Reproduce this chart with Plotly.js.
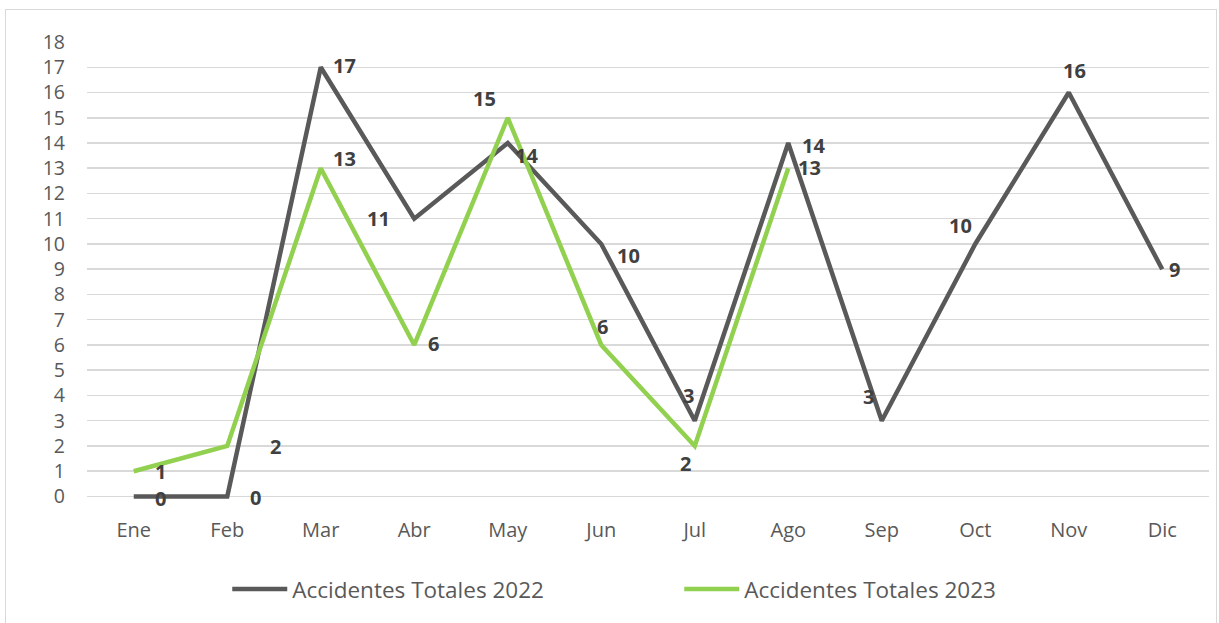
<!DOCTYPE html>
<html>
<head>
<meta charset="utf-8">
<script src="https://cdn.plot.ly/plotly-3.0.1.min.js"></script>
<style>
html,body{margin:0;padding:0;background:#fff;}
#frame{position:absolute;left:5px;top:9px;width:1212px;height:620px;border:1.5px solid #d9d9d9;box-sizing:border-box;}
#chart{position:absolute;left:0;top:0;width:1219px;height:623px;}
</style>
</head>
<body>
<div id="frame"></div>
<div id="chart"></div>
<script>
const months = ["Ene","Feb","Mar","Abr","May","Jun","Jul","Ago","Sep","Oct","Nov","Dic"];
const name2022 = "Accidentes Totales 2022";
const name2023 = "Accidentes Totales 2023";
const values2022 = [0,0,17,11,14,10,3,14,3,10,16,9];
const values2023 = [1,2,13,6,15,6,2,13];

// label offsets in pixels [dx, dy(up)]
const offs2022 = [[27,-2],[28,-1],[24,2],[-36,0],[19,-13],[27,-12],[-6,25],[25,-3],[-13,24],[-15,18],[6,22],[12,0]];
const offs2023 = [[27,0],[48,-1],[24,10],[19,1],[-23,19],[1,18],[-9,-18],[21,1]];

const FONT = "'Open Sans', Lato, sans-serif";
const c2022 = "#595959";
const c2023 = "#92d050";

const traces = [
  {x: months, y: values2022, type: "scatter", mode: "lines", name: name2022,
   line: {color: c2022, width: 4.5}},
  {x: months.slice(0, values2023.length), y: values2023, type: "scatter", mode: "lines", name: name2023,
   line: {color: c2023, width: 4.5}}
];

const annotations = [];
function addLabels(vals, offs) {
  vals.forEach((v, i) => {
    annotations.push({x: months[i], y: v, xref: "x", yref: "y", text: String(v), showarrow: false,
      xshift: offs[i][0], yshift: offs[i][1],
      font: {family: FONT, size: 20, color: "#404040", weight: "bold"}});
  });
}
addLabels(values2022, offs2022);
addLabels(values2023, offs2023);

const layout = {
  width: 1219, height: 623,
  margin: {l: 87, r: 10, t: 42, b: 123.5, autoexpand: false},
  paper_bgcolor: "rgba(0,0,0,0)", plot_bgcolor: "rgba(0,0,0,0)",
  font: {family: FONT, size: 19, color: "#595959"},
  showlegend: true,
  xaxis: {type: "category", range: [-0.5, 11.5], showgrid: false, zeroline: false, automargin: false,
    showline: false, ticks: "", ticklabelstandoff: 17, tickfont: {size: 20, color: "#595959"}},
  yaxis: {range: [-0.1, 18], tickvals: [0,1,2,3,4,5,6,7,8,9,10,11,12,13,14,15,16,17,18],
    showgrid: true, gridcolor: "#d9d9d9", gridwidth: 1.5, automargin: false,
    zeroline: false, showline: false, ticks: "", ticklabelstandoff: 21, tickfont: {size: 19.5, color: "#595959"}},
  legend: {orientation: "h", x: 0.125, xanchor: "left", y: -0.198, yanchor: "middle",
    entrywidth: 382, entrywidthmode: "pixels", itemwidth: 55,
    font: {size: 22.5, color: "#595959"}, bgcolor: "rgba(0,0,0,0)"},
  annotations: annotations
};

Plotly.newPlot("chart", traces, layout, {displayModeBar: false, staticPlot: true});
</script>
</body>
</html>
